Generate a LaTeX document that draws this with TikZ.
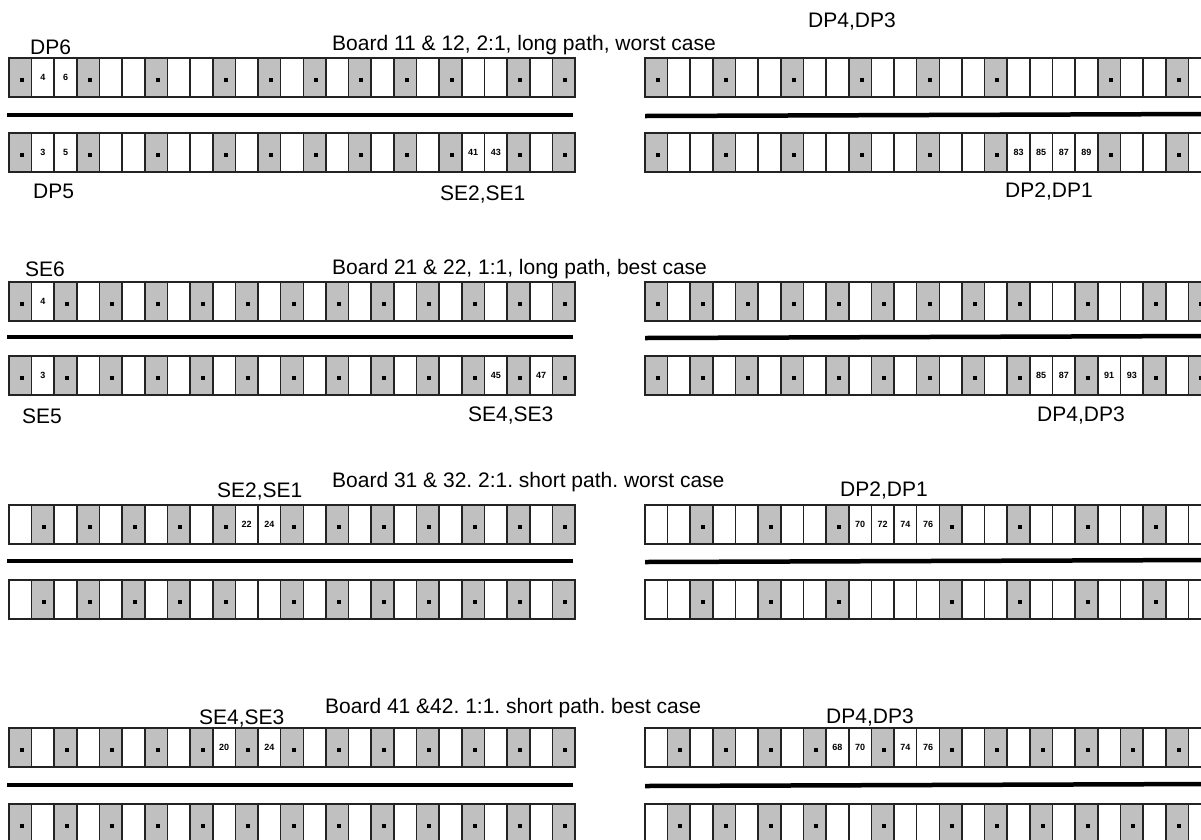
\documentclass[tikz,border=0pt]{standalone}
\usepackage{fontspec}
\setmainfont{Liberation Sans}
\usepackage{ifthen}
\usepackage{xcolor}
\frenchspacing

\definecolor{cellgray}{RGB}{192,192,192}
\definecolor{cellline}{RGB}{35,35,35}

% one strip of 25 slots: g = grey slot, w = empty slot, anything else = slot number
\newcommand{\slotstrip}[4]{%
  \foreach \cv [count=\i from 0] in {#4}{%
    \ifthenelse{\equal{\cv}{g}}%
      {\node[slotg] (#1-\i) at ({#2+\i*22.64},#3) {};
       \fill[black] ([shift={(-0.5pt,-4.5pt)}]#1-\i.center) rectangle +(4pt,4pt);}%
      {\node[slotw] (#1-\i) at ({#2+\i*22.64},#3) {\ifthenelse{\equal{\cv}{w}}{}{\cv}};}%
  }%
}

\begin{document}
\begin{tikzpicture}[
x=1pt, y=-1pt,
slot/.style={draw=cellline, line width=1.6pt, minimum width=22.64pt, minimum height=39pt, inner sep=0pt, outer sep=0pt, anchor=north west, font=\fontsize{9}{9}\selectfont\bfseries},
slotw/.style={slot, fill=white},
slotg/.style={slot, fill=cellgray},
sepline/.style={line width=4.5pt, black},
lbl/.style={anchor=base west, inner sep=0pt, font=\fontsize{21}{21}\selectfont}
]
\useasboundingbox (0,0) rectangle (1201,839);
\clip (0,0) rectangle (1201,839);
\fill[white] (0,0) rectangle (1201,839);

% Board 11 & 12
\node[lbl] (dp6) at (30,54) {DP6};
\node[lbl] (title1) at (332,50) {Board 11 \& 12, 2:1, long path, worst case};
\node[lbl] (dp43a) at (808,27) {DP4,DP3};
\slotstrip{b1tl}{9}{58}{g,4,6,g,w,w,g,w,w,g,w,g,w,g,w,g,w,g,w,g,w,w,g,w,g}
\slotstrip{b1tr}{645}{58}{g,w,w,g,w,w,g,w,w,g,w,w,g,w,w,g,w,w,w,w,g,w,w,g,w}
\draw[sepline] (7,115) -- (573,115);
\draw[sepline] (645,116) -- (1210,114);
\slotstrip{b1bl}{9}{133}{g,3,5,g,w,w,g,w,w,g,w,g,w,g,w,g,w,g,w,g,41,43,g,w,g}
\slotstrip{b1br}{645}{133}{g,w,w,g,w,w,g,w,w,g,w,w,g,w,w,g,83,85,87,89,g,w,w,g,w}
\node[lbl] (dp5) at (33,198) {DP5};
\node[lbl] (se21a) at (440,200) {SE2,SE1};
\node[lbl] (dp21a) at (1005,197) {DP2,DP1};

% Board 21 & 22
\node[lbl] (se6) at (25,276) {SE6};
\node[lbl] (title2) at (332,274) {Board 21 \& 22, 1:1, long path, best case};
\slotstrip{b2tl}{9}{282}{g,4,g,w,g,w,g,w,g,w,g,w,g,w,g,w,g,w,g,w,g,w,g,w,g}
\slotstrip{b2tr}{645}{282}{g,w,g,w,g,w,g,w,g,w,g,w,g,w,g,w,g,w,w,g,w,w,g,w,g}
\draw[sepline] (7,337) -- (573,337);
\draw[sepline] (645,338) -- (1210,336);
\slotstrip{b2bl}{9}{356}{g,3,g,w,g,w,g,w,g,w,g,w,g,w,g,w,g,w,g,w,g,45,g,47,g}
\slotstrip{b2br}{645}{356}{g,w,g,w,g,w,g,w,g,w,g,w,g,w,g,w,g,85,87,g,91,93,g,w,g}
\node[lbl] (se5) at (22,423) {SE5};
\node[lbl] (se43a) at (468,421) {SE4,SE3};
\node[lbl] (dp43b) at (1037,421) {DP4,DP3};

% Board 31 & 32
\node[lbl] (se21b) at (217,497) {SE2,SE1};
\node[lbl] (title3) at (332,487) {Board 31 \& 32. 2:1. short path. worst case};
\node[lbl] (dp21b) at (840,496) {DP2,DP1};
\slotstrip{b3tl}{9}{505}{w,g,w,g,w,g,w,g,w,g,22,24,g,w,g,w,g,w,g,w,g,w,g,w,g}
\slotstrip{b3tr}{645}{505}{w,w,g,w,w,g,w,w,g,70,72,74,76,g,w,w,g,w,w,g,w,w,g,w,w}
\draw[sepline] (7,561) -- (573,561);
\draw[sepline] (645,562) -- (1210,560);
\slotstrip{b3bl}{9}{580}{w,g,w,g,w,g,w,g,w,g,w,w,g,w,g,w,g,w,g,w,g,w,g,w,g}
\slotstrip{b3br}{645}{580}{w,w,g,w,w,g,w,w,g,w,w,w,w,g,w,w,g,w,w,g,w,w,g,w,w}

% Board 41 & 42
\node[lbl] (se43b) at (199,724) {SE4,SE3};
\node[lbl] (title4) at (325,713) {Board 41 \&42. 1:1. short path. best case};
\node[lbl] (dp43c) at (826,723) {DP4,DP3};
\slotstrip{b4tl}{9}{728}{g,w,g,w,g,w,g,w,g,20,g,24,g,w,g,w,g,w,g,w,g,w,g,w,g}
\slotstrip{b4tr}{645}{728}{w,g,w,g,w,g,w,g,68,70,g,74,76,g,w,g,w,g,w,g,w,g,w,g,w}
\draw[sepline] (7,785) -- (573,785);
\draw[sepline] (645,786) -- (1210,784);
\slotstrip{b4bl}{9}{804}{g,w,g,w,g,w,g,w,g,w,g,w,g,w,g,w,g,w,g,w,g,w,g,w,g}
\slotstrip{b4br}{645}{804}{w,g,w,g,w,g,w,g,w,w,g,w,w,g,w,g,w,g,w,g,w,g,w,g,w}
\end{tikzpicture}
\end{document}
